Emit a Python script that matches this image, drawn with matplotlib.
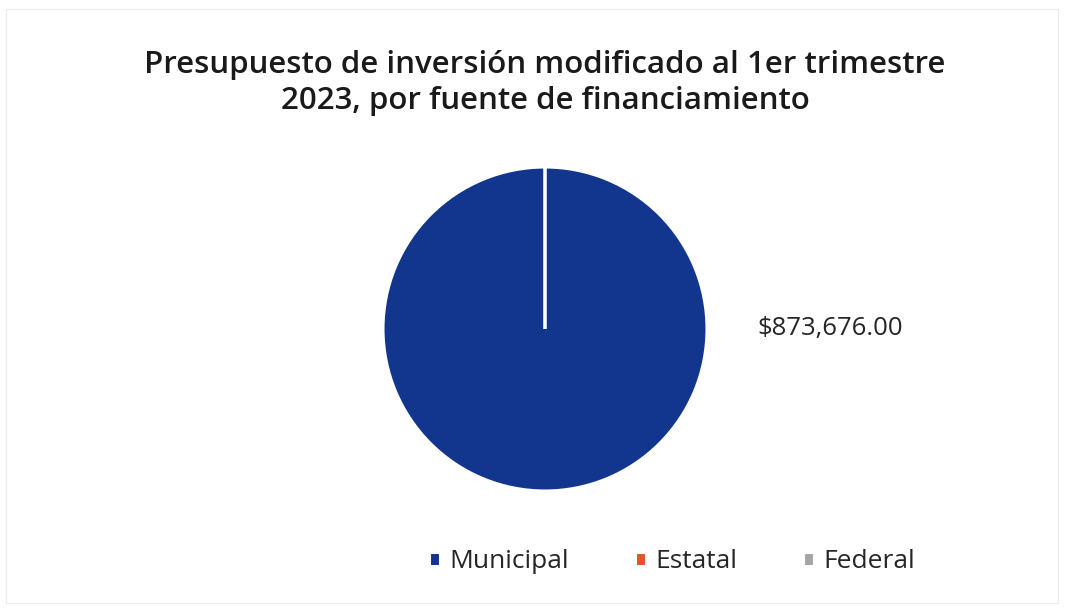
import matplotlib.pyplot as plt
from matplotlib.patches import Rectangle

# Data
categories = ['Municipal', 'Estatal', 'Federal']
values = [873676.00, 0.0, 0.0]
colors = ['#12368E', '#E0552A', '#A5A5A5']

title = 'Presupuesto de inversión modificado al 1er trimestre\n2023, por fuente de financiamiento'

plt.rcParams['font.family'] = ['Open Sans', 'DejaVu Sans']

W, H = 1071, 609
fig = plt.figure(figsize=(W / 100, H / 100), dpi=100)

# faint frame around the chart area
fig.patches.append(Rectangle((6 / W, 6 / H), 1052 / W, 594 / H, transform=fig.transFigure,
                             fill=False, edgecolor='#ececec', linewidth=0.8))

# pie axes: center (545, 329), radius 162 px
cx, cy, r = 545, H - 329, 162
ax = fig.add_axes([(cx - r) / W, (cy - r) / H, 2 * r / W, 2 * r / H])

wedges, _ = ax.pie(values, colors=colors, startangle=90, counterclock=False,
                   wedgeprops=dict(edgecolor='white', linewidth=2.2))
ax.set_xlim(-1, 1)
ax.set_ylim(-1, 1)
ax.set_aspect('equal')

# data label for the only non-zero slice
ax.text(1.31, 0.0, f'${values[0]:,.2f}', ha='left', va='center',
        fontsize=18.5, color='#262626', clip_on=False)

fig.text(cx / W, 1 - 83 / H, title, ha='center', va='center', fontsize=22.5,
         color='#1a1a1a', fontweight='semibold', linespacing=1.28)

fig.legend(wedges, categories, loc='center', bbox_to_anchor=(672 / W, 1 - 562 / H),
           ncol=3, frameon=False, fontsize=19, handlelength=0.42, handleheight=0.42,
           handletextpad=0.35, columnspacing=2.5, labelcolor='#262626')

fig.savefig('out.png', dpi=100, facecolor='white')
